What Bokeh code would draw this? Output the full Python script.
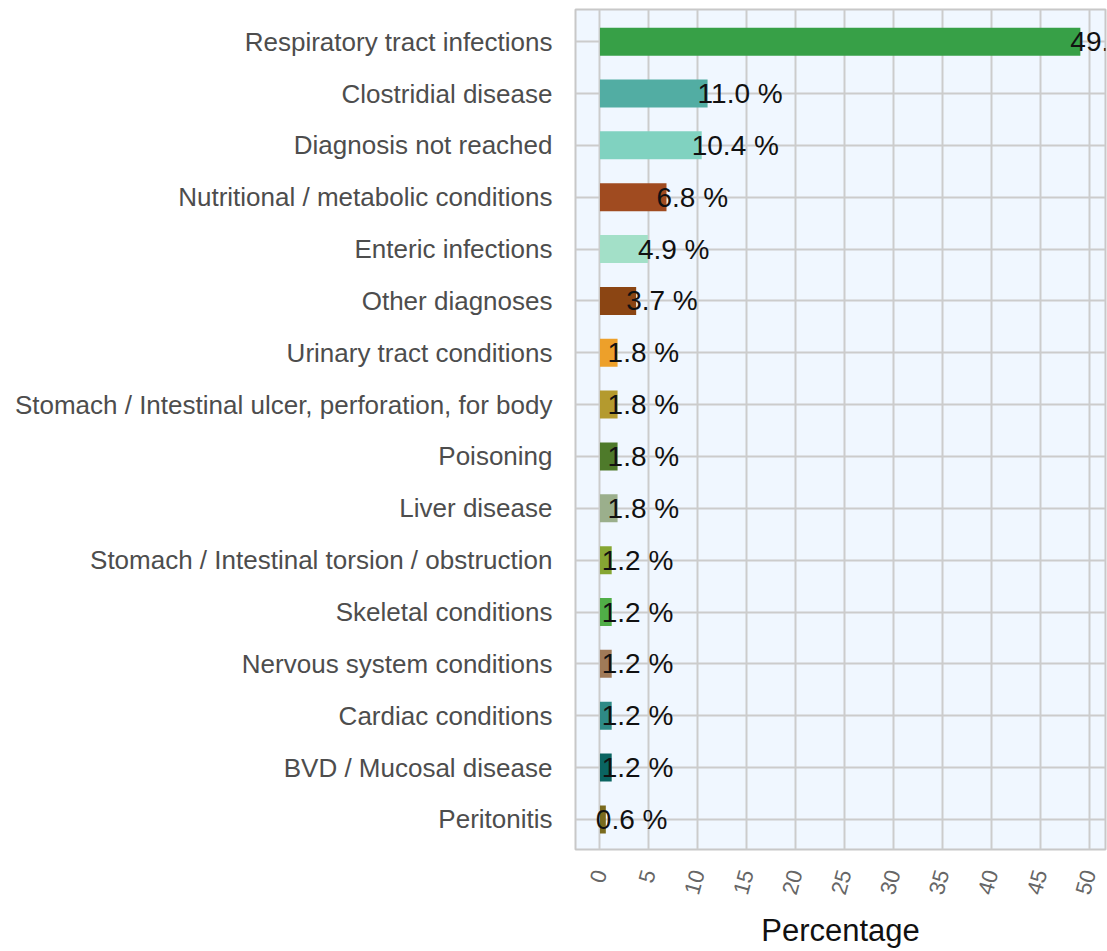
from bokeh.plotting import figure
from bokeh.models import ColumnDataSource, Range1d, FixedTicker
from bokeh.embed import file_html
from bokeh.resources import INLINE
from bokeh.core.properties import value

categories = [
    "Respiratory tract infections",
    "Clostridial disease",
    "Diagnosis not reached",
    "Nutritional / metabolic conditions",
    "Enteric infections",
    "Other diagnoses",
    "Urinary tract conditions",
    "Stomach / Intestinal ulcer, perforation, for body",
    "Poisoning",
    "Liver disease",
    "Stomach / Intestinal torsion / obstruction",
    "Skeletal conditions",
    "Nervous system conditions",
    "Cardiac conditions",
    "BVD / Mucosal disease",
    "Peritonitis",
]
percentages = [49.1, 11.0, 10.4, 6.8, 4.9, 3.7, 1.8, 1.8, 1.8, 1.8, 1.2, 1.2, 1.2, 1.2, 1.2, 0.6]
bar_colors = [
    "#37A047", "#52ADA3", "#80D2C0", "#A04B20", "#A3E0C8", "#8B4513",
    "#EDA02A", "#B49A2E", "#4E7A2A", "#9BAF8C", "#86A633", "#50AE47",
    "#A07A58", "#2E8A86", "#0A6461", "#7A6B1E",
]
x_ticks = [0, 5, 10, 15, 20, 25, 30, 35, 40, 45, 50]

positions = list(range(len(categories)))
labels = ["%.1f %%" % v for v in percentages]

source = ColumnDataSource(dict(
    y=positions, right=percentages, color=bar_colors, label=labels,
))

p = figure(
    width=1107, height=951,
    output_backend="svg", toolbar_location=None,
    x_range=Range1d(-2.5, 51.67),
    y_range=Range1d(15.58, -0.62),
    min_border_left=575, min_border_right=2,
    min_border_top=9, min_border_bottom=101,
)

p.background_fill_color = "#F0F7FF"
p.border_fill_color = "white"
p.outline_line_color = "#C8C8C8"
p.outline_line_width = 2

p.hbar(y="y", left=0, right="right", height=0.54, fill_color="color",
       line_color=None, source=source)

p.text(x="right", y="y", text="label", source=source,
       text_align="left", text_baseline="middle", x_offset=-10,
       text_font=value("Liberation Sans"), text_font_size="28px",
       text_color="#111111")

# x axis
p.xaxis.ticker = FixedTicker(ticks=x_ticks)
p.xaxis.axis_line_color = None
p.xaxis.major_tick_line_color = None
p.xaxis.minor_tick_line_color = None
p.xaxis.major_label_orientation = 1.3
p.xaxis.major_label_text_font = "Liberation Sans"
p.xaxis.major_label_text_font_size = "22px"
p.xaxis.major_label_text_color = "#666666"
p.xaxis.major_label_standoff = 15
p.xaxis.axis_label = "Percentage"
p.xaxis.axis_label_text_font = "Liberation Sans"
p.xaxis.axis_label_text_font_size = "31px"
p.xaxis.axis_label_text_font_style = "normal"
p.xaxis.axis_label_text_color = "#111111"
p.xaxis.axis_label_standoff = 12

# y axis
p.yaxis.ticker = FixedTicker(ticks=positions)
p.yaxis.major_label_overrides = {i: c for i, c in zip(positions, categories)}
p.yaxis.axis_line_color = None
p.yaxis.major_tick_line_color = None
p.yaxis.minor_tick_line_color = None
p.yaxis.major_label_text_font = "Liberation Sans"
p.yaxis.major_label_text_font_size = "26px"
p.yaxis.major_label_text_color = "#4D4D4D"
p.yaxis.major_label_standoff = 17

p.xgrid.grid_line_color = "#CCCCCC"
p.xgrid.grid_line_width = 2
p.ygrid.grid_line_color = "#CCCCCC"
p.ygrid.grid_line_width = 2

open("out.html", "w").write(file_html(p, INLINE))
